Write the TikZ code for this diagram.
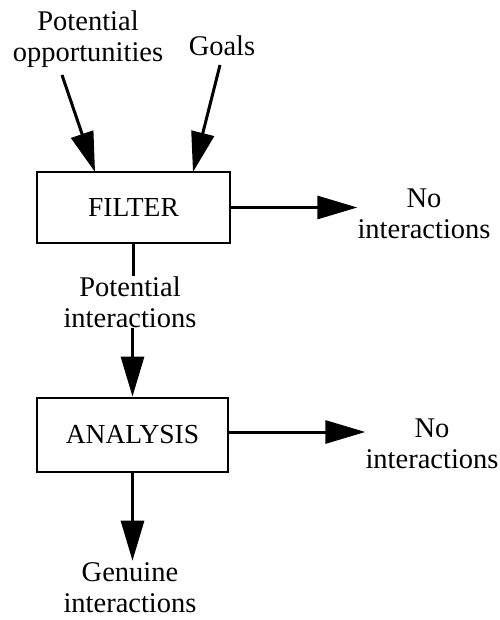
\documentclass[tikz,border=0pt]{standalone}
\usepackage{fontspec}
\setmainfont{Liberation Serif}
\usetikzlibrary{arrows.meta}
\begin{document}
\begin{tikzpicture}[x=1pt,y=-1pt,
  lbl/.style={align=center,inner sep=0pt,font=\fontsize{28.5}{31}\selectfont},
  proc/.style={draw,line width=2.8pt,inner sep=0pt,font=\fontsize{27.5}{31}\selectfont},
  flow/.style={line width=3pt,-{Triangle[length=40pt,width=23pt]}},
  plain/.style={line width=3pt}]
\useasboundingbox (0,0) rectangle (499,620);
\node[proc,minimum width=193pt,minimum height=71pt] (filter) at (133.5,207.5) {FILTER};
\node[proc,minimum width=191pt,minimum height=74pt] (analysis) at (132.5,435) {ANALYSIS};
\node[lbl] (po) at (88,39) {Potential\\opportunities};
\node[lbl] (goals) at (222,46) {Goals};
\node[lbl] (no1) at (424,214) {No\\interactions};
\node[lbl] (pi) at (130,302) {Potential\\interactions};
\node[lbl] (no2) at (432,444) {No\\interactions};
\node[lbl] (gi) at (130,588) {Genuine\\interactions};
\coordinate (s1) at (62,75);
\coordinate (s2) at (220,65);
\coordinate (e1) at (95,172);
\coordinate (e2) at (193,172);
\draw[flow] (s1) -- (e1);
\draw[flow] (s2) -- (e2);
\draw[flow] (filter.east) -- (filter.east -| no1.west);
\draw[plain] (filter.south) -- (filter.south |- pi.north);
\draw[flow] (pi.south -| analysis.north) -- (analysis.north);
\draw[flow] ([yshift=3pt]analysis.east) -- ([yshift=3pt]analysis.east -| no2.west);
\draw[flow] (analysis.south) -- ([yshift=2pt]analysis.south |- gi.north);
\end{tikzpicture}
\end{document}
